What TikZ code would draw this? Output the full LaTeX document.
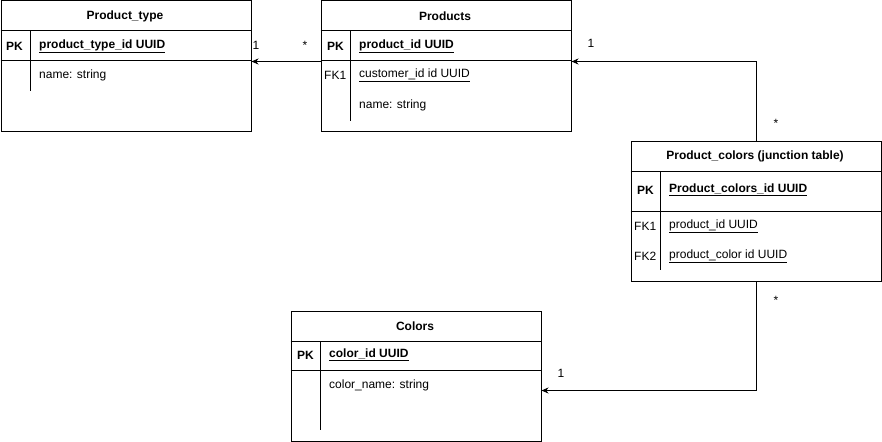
\documentclass[tikz,border=0pt]{standalone}
\usepackage{fontspec}
\setmainfont{Liberation Sans}
\usetikzlibrary{arrows.meta}
\begin{document}
\begin{tikzpicture}[x=1pt,y=-1pt,
  tbl/.style={draw=black, line width=1pt, anchor=north west, inner sep=0pt, minimum width=250pt},
  sep/.style={draw=black, line width=1pt},
  ttl/.style={font=\fontsize{12}{14}\selectfont\bfseries, inner sep=0pt},
  fld/.style={font=\fontsize{12}{14}\selectfont, anchor=west, inner sep=0pt},
  key/.style={font=\fontsize{12}{14}\selectfont, anchor=west, inner sep=0pt},
  conn/.style={draw=black, line width=1pt, -{Stealth[length=7pt,width=6pt]}},
  card/.style={font=\fontsize{12}{14}\selectfont, inner sep=0pt}
]
\useasboundingbox[fill=white] (0,0) rectangle (882,441);

% Product_type
\node[tbl, minimum height=130pt] (ptype) at (0.5,0.5) {};
\draw[sep] (0.5,31) -- (250.5,31) (0.5,61) -- (250.5,61) (30,31) -- (30,91);
\node[ttl] (ptypeT) at (125,16) {Product\_type};
\node[key, font=\fontsize{12}{14}\selectfont\bfseries] (ptypeK) at (6,46) {PK};
\node[fld, font=\fontsize{12}{14}\selectfont\bfseries] (ptypeF1) at (39,46) {\underline{product\_type\_id UUID}};
\node[fld] (ptypeF2) at (39,75) {name: string};

% Products
\node[tbl, minimum height=130pt] (prod) at (320.5,0.5) {};
\draw[sep] (320.5,31) -- (570.5,31) (320.5,61) -- (570.5,61) (350,31) -- (350,121);
\node[ttl] (prodT) at (445,16) {Products};
\node[key, font=\fontsize{12}{14}\selectfont\bfseries] (prodK) at (327,46) {PK};
\node[fld, font=\fontsize{12}{14}\selectfont\bfseries] (prodF1) at (359,46) {\underline{product\_id UUID}};
\node[key] (prodK2) at (324,75) {FK1};
\node[fld] (prodF2) at (359,75) {\underline{customer\_id id UUID}};
\node[fld] (prodF3) at (359,105) {name: string};

% Product_colors
\node[tbl, minimum height=140pt] (pc) at (630.5,140.5) {};
\draw[sep] (630.5,171) -- (880.5,171) (630.5,211) -- (880.5,211) (660,171) -- (660,270);
\node[ttl] (pcT) at (755,156) {Product\_colors (junction table)};
\node[key, font=\fontsize{12}{14}\selectfont\bfseries] (pcK) at (637,190) {PK};
\node[fld, font=\fontsize{12}{14}\selectfont\bfseries] (pcF1) at (669,190) {\underline{Product\_colors\_id UUID}};
\node[key] (pcK2) at (634,226) {FK1};
\node[fld] (pcF2) at (669,226) {\underline{product\_id UUID}};
\node[key] (pcK3) at (634,256) {FK2};
\node[fld] (pcF3) at (669,256) {\underline{product\_color id UUID}};

% Colors
\node[tbl, minimum height=130pt] (col) at (290.5,310.5) {};
\draw[sep] (290.5,341) -- (540.5,341) (290.5,370) -- (540.5,370) (320,341) -- (320,430);
\node[ttl] (colT) at (415,326) {Colors};
\node[key, font=\fontsize{12}{14}\selectfont\bfseries] (colK) at (297,355) {PK};
\node[fld, font=\fontsize{12}{14}\selectfont\bfseries] (colF1) at (329,355) {\underline{color\_id UUID}};
\node[fld] (colF2) at (329,385) {color\_name: string};

% connector endpoints
\coordinate (a1) at (prod.west |- 0,61.5);
\coordinate (a2) at (ptype.east |- 0,61.5);
\coordinate (b1) at (pc.north);
\coordinate (b2) at (prod.east |- 0,61.5);
\coordinate (c1) at (pc.south);
\coordinate (c2) at (col.east |- 0,390.5);

\draw[conn] (a1) -- (a2);
\draw[conn] (b1) |- (b2);
\draw[conn] (c1) |- (c2);

\node[card] (l1) at (256,45) {1};
\node[card] (l2) at (305,45) {*};
\node[card] (l3) at (591,43) {1};
\node[card] (l4) at (776,123) {*};
\node[card] (l5) at (776,300) {*};
\node[card] (l6) at (561,373) {1};
\end{tikzpicture}
\end{document}
